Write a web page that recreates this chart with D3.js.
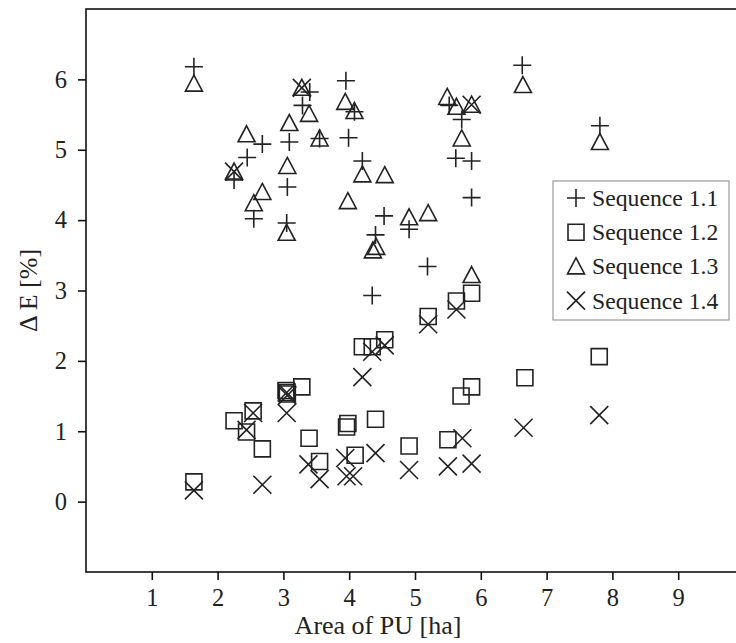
<!DOCTYPE html>
<html><head><meta charset="utf-8">
<script src="https://cdn.jsdelivr.net/npm/d3@7/dist/d3.min.js"></script>
<style>body{margin:0;background:#fff;}svg{display:block;}</style>
</head><body>
<script>
const seriesNames = ["Sequence 1.1","Sequence 1.2","Sequence 1.3","Sequence 1.4"];
const seriesSymbols = ["plus","square","triangle","cross"];
const seq11 = [[1.64,6.18],[2.25,4.57],[2.45,4.89],[2.55,4.02],[2.68,5.08],[3.05,3.96],[3.06,4.47],[3.09,5.11],[3.29,5.63],[3.40,5.82],[3.55,5.16],[3.95,5.98],[3.99,5.17],[4.08,5.54],[4.20,4.84],[4.35,2.93],[4.40,3.79],[4.53,4.06],[4.91,3.87],[5.19,3.34],[5.52,5.63],[5.62,4.88],[5.71,5.43],[5.86,4.84],[5.86,4.32],[6.63,6.20],[7.81,5.34]];
const seq12 = [[1.64,0.28],[2.25,1.15],[2.44,0.99],[2.54,1.29],[2.68,0.75],[3.04,1.58],[3.05,1.55],[3.06,1.53],[3.28,1.63],[3.39,0.90],[3.55,0.57],[3.96,1.06],[3.98,1.11],[4.09,0.66],[4.20,2.20],[4.35,2.20],[4.40,1.17],[4.54,2.30],[4.91,0.79],[5.20,2.63],[5.50,0.88],[5.63,2.85],[5.70,1.50],[5.86,1.63],[5.86,2.96],[6.67,1.76],[7.80,2.06]];
const seq13 = [[1.64,5.94],[2.25,4.69],[2.44,5.22],[2.55,4.24],[2.68,4.40],[3.05,3.82],[3.06,4.77],[3.09,5.38],[3.28,5.88],[3.39,5.51],[3.55,5.16],[3.94,5.68],[3.98,4.27],[4.08,5.55],[4.20,4.65],[4.36,3.57],[4.41,3.62],[4.54,4.64],[4.91,4.04],[5.20,4.10],[5.49,5.75],[5.63,5.61],[5.71,5.16],[5.86,5.64],[5.86,3.22],[6.64,5.92],[7.81,5.11]];
const seq14 = [[1.64,0.16],[2.25,4.69],[2.44,1.02],[2.54,1.26],[2.68,0.24],[3.05,1.55],[3.06,1.51],[3.05,1.26],[3.28,5.88],[3.38,0.53],[3.55,0.32],[3.94,0.62],[3.96,0.36],[4.06,0.36],[4.20,1.77],[4.35,2.13],[4.40,0.69],[4.54,2.22],[4.91,0.45],[5.20,2.52],[5.50,0.50],[5.63,2.73],[5.72,0.90],[5.86,0.54],[5.86,5.64],[6.65,1.05],[7.80,1.23]];
const xTicks = [1,2,3,4,5,6,7,8,9];
const yTicks = [0,1,2,3,4,5,6];
const xLabel = "Area of PU [ha]";
const yLabel = "\u0394 E [%]";

(function(){
const W = 736, H = 643;
const pLeft = 86, pRight = 744, pTop = 9, pBottom = 572;
const svg = d3.select("body").append("svg").attr("width", W).attr("height", H);
const x = d3.scaleLinear().domain([0,10]).range([pLeft, pRight]);
const y = d3.scaleLinear().domain([-1,7]).range([pBottom, pTop]);
const font = "'Liberation Serif','Times New Roman',serif";
const ink = "#222";

svg.append("rect").attr("x", pLeft).attr("y", pTop).attr("width", pRight-pLeft).attr("height", pBottom-pTop)
  .attr("fill","none").attr("stroke","#111").attr("stroke-width",1.6);

const xAxis = svg.append("g").attr("transform",`translate(0,${pBottom})`)
  .call(d3.axisBottom(x).tickValues(xTicks).tickFormat(d3.format("d")).tickSize(8).tickPadding(9));
const yAxis = svg.append("g").attr("transform",`translate(${pLeft},0)`)
  .call(d3.axisLeft(y).tickValues(yTicks).tickFormat(d3.format("d")).tickSize(8).tickPadding(11));
[xAxis,yAxis].forEach(g=>{
  g.select(".domain").remove();
  g.selectAll(".tick line").attr("stroke","#111").attr("stroke-width",1.6);
  g.selectAll(".tick text").attr("font-family",font).attr("font-size",24.5).attr("fill","#222");
});

svg.append("text").attr("x",378).attr("y",634).attr("text-anchor","middle")
  .attr("font-family",font).attr("font-size",26).attr("fill","#222").text(xLabel);
svg.append("text").attr("transform",`translate(37,${(pTop+pBottom)/2}) rotate(-90)`).attr("text-anchor","middle")
  .attr("font-family",font).attr("font-size",26).attr("fill","#222").text(yLabel);

function symPath(type){
  const a = 9;
  switch(type){
    case "plus": return `M${-a},0H${a}M0,${-a}V${a}`;
    case "square": return `M-8,-8H8V8H-8Z`;
    case "triangle": return `M0,-8.5L8.5,7.5H-8.5Z`;
    case "cross": return `M${-a},${-a}L${a},${a}M${-a},${a}L${a},${-a}`;
  }
}
const allSeries = [seq11, seq12, seq13, seq14];
allSeries.forEach((data,i)=>{
  svg.append("g").selectAll("path").data(data).join("path")
    .attr("transform",d=>`translate(${x(d[0])},${y(d[1])})`)
    .attr("d",symPath(seriesSymbols[i]))
    .attr("fill","none").attr("stroke",ink).attr("stroke-width",1.6);
});

const lg = svg.append("g");
lg.append("rect").attr("x",553).attr("y",181).attr("width",176).attr("height",139)
  .attr("fill","#fff").attr("stroke","#999").attr("stroke-width",1.2);
seriesNames.forEach((name,i)=>{
  const cy = 198 + i*34.2;
  lg.append("path").attr("transform",`translate(576,${cy})`).attr("d",symPath(seriesSymbols[i]))
    .attr("fill","none").attr("stroke",ink).attr("stroke-width",1.6);
  lg.append("text").attr("x",592).attr("y",cy+8).attr("font-family",font).attr("font-size",23.7)
    .attr("fill","#222").text(name);
});
})();
</script>
</body></html>
